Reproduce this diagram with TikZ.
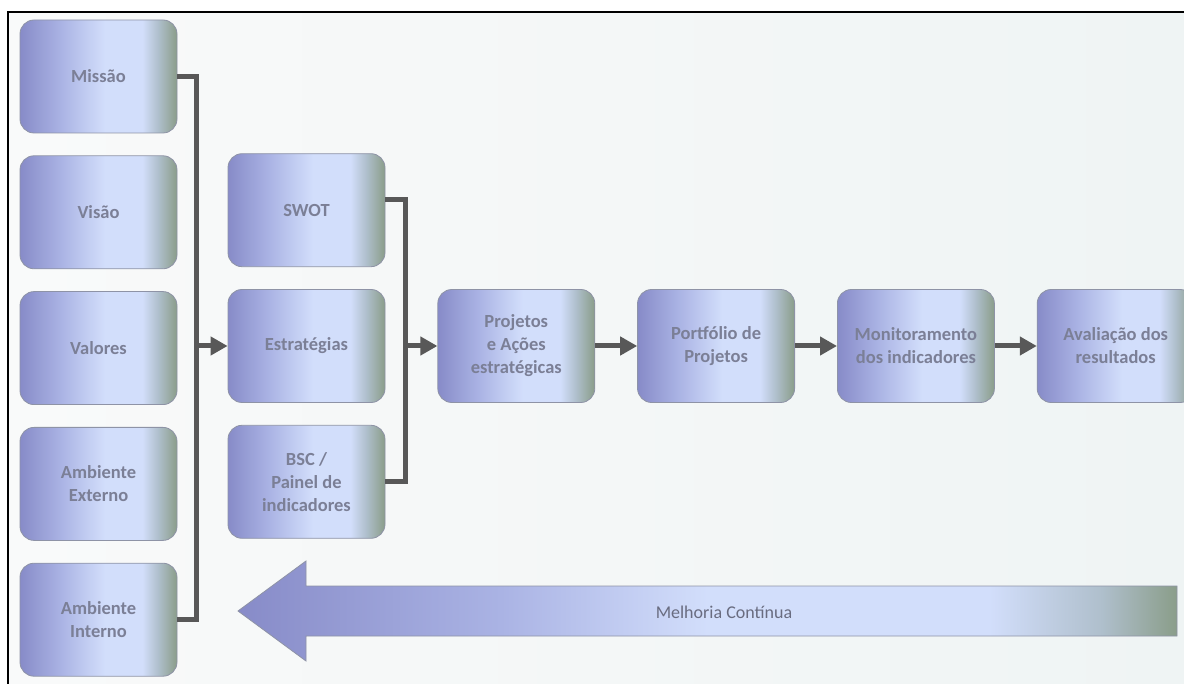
\documentclass[tikz,border=0pt]{standalone}
\usepackage{fontspec}
\setmainfont{Carlito}
\usepackage{tikz}
\usetikzlibrary{arrows.meta,positioning,calc}
\definecolor{boxA}{HTML}{878BC8}
\definecolor{boxB}{HTML}{AAB3E4}
\definecolor{boxC}{HTML}{D2DEFB}
\definecolor{boxE}{HTML}{AFBFCC}
\definecolor{boxD}{HTML}{8A9D89}
\definecolor{boxedge}{HTML}{8E93A6}
\definecolor{boxtext}{HTML}{7B7F96}
\definecolor{wiregray}{HTML}{585858}
\definecolor{bgA}{HTML}{F9FAFA}
\definecolor{bgB}{HTML}{EFF4F4}
\pgfdeclarehorizontalshading{boxfill}{100bp}{color(0bp)=(boxA); color(25bp)=(boxA); color(38bp)=(boxB); color(52bp)=(boxC); color(64bp)=(boxC); color(69bp)=(boxE); color(75bp)=(boxD); color(100bp)=(boxD)}
\pgfdeclarehorizontalshading{loopfill}{100bp}{color(0bp)=(boxA); color(25bp)=(boxA); color(39bp)=(boxB); color(50bp)=(boxC); color(65bp)=(boxC); color(71bp)=(boxE); color(75bp)=(boxD); color(100bp)=(boxD)}

\begin{document}
\begin{tikzpicture}[x=1pt, y=-1pt,
  stage/.style={draw=boxedge, line width=0.8pt, rounded corners=14pt, shading=boxfill, minimum width=157pt, minimum height=113pt, align=center, text=boxtext, font=\fontsize{18.5}{23}\selectfont\bfseries, inner sep=2pt},
  wire/.style={draw=wiregray, line width=5pt},
  flow/.style={wire, -{Triangle[length=17pt,width=18pt]}}
]
  \useasboundingbox (0,0) rectangle (1184,684);
  \fill[white] (0,0) rectangle (1184,684);
  \shade[left color=bgA, right color=bgB] (8,12) rectangle (1184,684);
  \draw[black, line width=2pt] (8,684) -- (8,12) -- (1184,12);

  % Inputs
  \node[stage] (missao) at (98.5,76.5) {Missão};
  \node[stage, below=22pt of missao] (visao) {Visão};
  \node[stage, below=22pt of visao] (valores) {Valores};
  \node[stage, below=22pt of valores] (externo) {Ambiente\\Externo};
  \node[stage, below=22pt of externo] (interno) {Ambiente\\Interno};

  % Strategy column
  \node[stage] (estrat) at (306.5,346) {Estratégias};
  \node[stage, above=22pt of estrat] (swot) {SWOT};
  \node[stage, below=22pt of estrat] (bsc) {BSC /\\Painel de\\indicadores};

  % Execution chain
  \node[stage, right=52pt of estrat] (projetos) {Projetos\\e Ações\\estratégicas};
  \node[stage, right=42pt of projetos] (portfolio) {Portfólio de\\Projetos};
  \node[stage, right=42pt of portfolio] (monitor) {Monitoramento\\dos indicadores};
  \node[stage, right=42pt of monitor] (avalia) {Avaliação dos\\resultados};

  % Buses
  \coordinate (bus1) at ($(missao.east)+(19,0)$);
  \draw[wire] (missao.east) -- (bus1) -- (bus1 |- interno.east) -- (interno.east);
  \draw[flow] (bus1 |- estrat.west) -- (estrat.west);

  \coordinate (swotout) at ($(swot.east)+(0,-11)$);
  \coordinate (bus2) at ($(swotout)+(20,0)$);
  \draw[wire] (swotout) -- (bus2) -- (bus2 |- bsc.east) -- (bsc.east);
  \draw[flow] (bus2 |- projetos.west) -- (projetos.west);

  \draw[flow] (projetos.east) -- (portfolio.west);
  \draw[flow] (portfolio.east) -- (monitor.west);
  \draw[flow] (monitor.east) -- (avalia.west);

  % Feedback arrow
  \path[draw=boxedge, line width=0.8pt, shading=loopfill]
    (238,611) -- (306,561) -- (306,586) -- (1177,586) -- (1177,636) -- (306,636) -- (306,661) -- cycle;
  \node[font=\fontsize{18}{22}\selectfont, text=boxtext!85!black] (melhoria) at (724,612) {Melhoria Contínua};
\end{tikzpicture}
\end{document}
